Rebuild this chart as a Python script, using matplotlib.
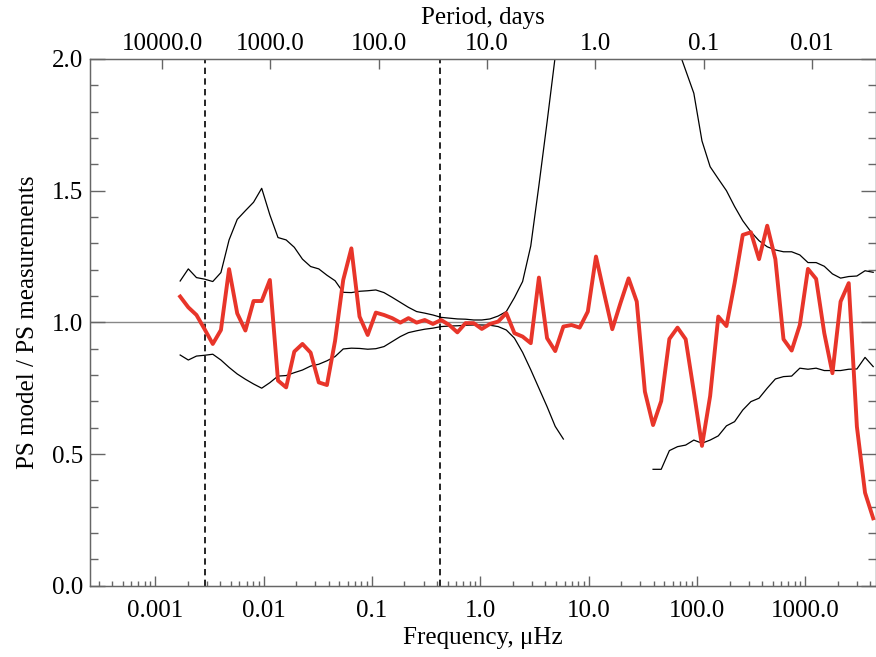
import numpy as np
import matplotlib
matplotlib.use("Agg")
import matplotlib.pyplot as plt
from matplotlib.ticker import FixedLocator, NullLocator, MultipleLocator, LogLocator

# Frequency bins, microHz (quarter-octave spacing)
freq = [0.0017, 0.002022, 0.002404, 0.002859, 0.0034, 0.004043, 0.004808, 0.005718,
        0.0068, 0.008087, 0.009617, 0.01144, 0.0136, 0.01617, 0.01923, 0.02287,
        0.0272, 0.03235, 0.03847, 0.04575, 0.0544, 0.06469, 0.07693, 0.09149,
        0.1088, 0.1294, 0.1539, 0.183, 0.2176, 0.2588, 0.3077, 0.366,
        0.4352, 0.5176, 0.6155, 0.7319, 0.8704, 1.035, 1.231, 1.464,
        1.741, 2.07, 2.462, 2.928, 3.482, 4.14, 4.924, 5.855,
        6.963, 8.281, 9.848, 11.71, 13.93, 16.56, 19.7, 23.42,
        27.85, 33.12, 39.39, 46.84, 55.71, 66.25, 78.78, 93.69,
        111.4, 132.5, 157.6, 187.4, 222.8, 265.0, 315.1, 374.7,
        445.7, 530.0, 630.2, 749.5, 891.3, 1060.0, 1260.5, 1499.0,
        1782.6, 2119.9, 2521.0, 2998.0, 3565.2, 4239.9]

ratio = [1.098, 1.057, 1.028, 0.974, 0.918, 0.971, 1.202, 1.034, 0.969, 1.081,
         1.081, 1.161, 0.779, 0.753, 0.889, 0.918, 0.885, 0.772, 0.762, 0.93,
         1.161, 1.281, 1.022, 0.952, 1.037, 1.028, 1.016, 0.999, 1.016, 0.999,
         1.009, 0.994, 1.009, 0.990, 0.962, 0.997, 0.997, 0.975, 0.994, 1.003,
         1.035, 0.959, 0.946, 0.921, 1.170, 0.940, 0.891, 0.984, 0.990, 0.980,
         1.041, 1.250, 1.110, 0.974, 1.073, 1.167, 1.079, 0.737, 0.610, 0.701,
         0.937, 0.980, 0.936, 0.737, 0.531, 0.72, 1.022, 0.986, 1.149, 1.332,
         1.342, 1.240, 1.367, 1.240, 0.936, 0.893, 0.990, 1.203, 1.165, 0.959,
         0.807, 1.079, 1.149, 0.604, 0.353, 0.256]

nan = np.nan
upper = [1.157, 1.203, 1.170, 1.164, 1.155, 1.189, 1.313, 1.391, 1.424, 1.456,
         1.509, 1.408, 1.322, 1.313, 1.285, 1.240, 1.212, 1.203, 1.179, 1.158,
         1.114, 1.113, 1.118, 1.120, 1.123, 1.113, 1.095, 1.076, 1.057, 1.041,
         1.035, 1.028, 1.019, 1.016, 1.013, 1.012, 1.009, 1.009, 1.013, 1.024,
         1.041, 1.094, 1.155, 1.29, 1.52, 1.76, 2.01, 2.4, nan, nan,
         nan, nan, nan, nan, nan, nan, nan, nan, nan, nan,
         2.4, 2.044, 1.957, 1.870, 1.689, 1.591, 1.545, 1.500, 1.440, 1.386,
         1.344, 1.310, 1.287, 1.275, 1.268, 1.268, 1.256, 1.227, 1.227, 1.213,
         1.184, 1.168, 1.174, 1.176, 1.196, 1.190]

lower = [0.876, 0.857, 0.872, 0.875, 0.879, 0.857, 0.829, 0.804, 0.784, 0.766,
         0.750, 0.771, 0.796, 0.798, 0.809, 0.819, 0.834, 0.841, 0.854, 0.870,
         0.899, 0.902, 0.901, 0.898, 0.900, 0.908, 0.927, 0.946, 0.961, 0.968,
         0.974, 0.978, 0.984, 0.986, 0.987, 0.989, 0.990, 0.990, 0.989, 0.984,
         0.971, 0.940, 0.886, 0.82, 0.75, 0.68, 0.605, 0.557, nan, nan,
         nan, nan, nan, nan, nan, nan, nan, nan, 0.442, 0.442,
         0.513, 0.528, 0.534, 0.553, 0.541, 0.553, 0.569, 0.607, 0.623, 0.667,
         0.699, 0.712, 0.750, 0.785, 0.794, 0.796, 0.826, 0.822, 0.826, 0.817,
         0.817, 0.817, 0.822, 0.823, 0.867, 0.832]

# 11-year cycle and 27-day rotation, microHz
marker_freq = [0.00288, 0.4287]

freq_ticks = [0.001, 0.01, 0.1, 1.0, 10.0, 100.0, 1000.0]
freq_labels = ["0.001", "0.01", "0.1", "1.0", "10.0", "100.0", "1000.0"]
period_ticks = [10000.0, 1000.0, 100.0, 10.0, 1.0, 0.1, 0.01]
period_labels = ["10000.0", "1000.0", "100.0", "10.0", "1.0", "0.1", "0.01"]
y_ticks = [0.0, 0.5, 1.0, 1.5, 2.0]
y_labels = ["0.0", "0.5", "1.0", "1.5", "2.0"]

plt.rcParams['font.family'] = ['Liberation Serif', 'DejaVu Serif']
plt.rcParams['font.size'] = 18

fig = plt.figure(figsize=(8.76, 6.57), dpi=100)
ax = fig.add_axes([0.1027, 0.1085, 0.8973, 0.8017])

spine_col = "#666666"
ax.set_xscale("log")
ax.set_xlim(2.5e-4, 4.5e3)
ax.set_ylim(0, 2.0)

ax.axhline(1.0, color="#888888", lw=1.0, zorder=1)
for f in marker_freq:
    ax.axvline(f, color="black", lw=1.2, dashes=(3.8, 2.6), zorder=1)

ax.plot(freq, upper, color="black", lw=0.9, zorder=2)
ax.plot(freq, lower, color="black", lw=0.9, zorder=2)
ax.plot(freq, ratio, color="#e8352a", lw=2.8, zorder=3)

ax.xaxis.set_major_locator(FixedLocator(freq_ticks))
ax.set_xticklabels(freq_labels)
ax.xaxis.set_minor_locator(LogLocator(base=10, subs=np.arange(2, 10)))
ax.yaxis.set_major_locator(FixedLocator(y_ticks))
ax.set_yticklabels(y_labels)
ax.yaxis.set_minor_locator(MultipleLocator(0.1))

ax.tick_params(axis="x", which="major", direction="in", length=7, width=1,
               color=spine_col, pad=10, top=False)
ax.tick_params(axis="x", which="minor", direction="in", length=3.5, width=1,
               color=spine_col, top=False)
ax.tick_params(axis="y", which="major", direction="in", length=11, width=1,
               color=spine_col, right=True, pad=5)
ax.tick_params(axis="y", which="minor", direction="in", length=5.5, width=1,
               color=spine_col, right=True)
for s in ax.spines.values():
    s.set_color(spine_col)
    s.set_linewidth(1.0)

ax.set_xlabel("Frequency, μHz", labelpad=4)
ax.set_ylabel("PS model / PS measurements", labelpad=9)

top = ax.twiny()
top.set_xscale("log")
top.set_xlim(ax.get_xlim())
top.xaxis.set_major_locator(FixedLocator([11.574 / p for p in period_ticks]))
top.set_xticklabels(period_labels)
top.xaxis.set_minor_locator(NullLocator())
top.tick_params(axis="x", which="major", direction="in", length=7, width=1,
                color=spine_col, pad=3)
top.set_xlabel("Period, days", labelpad=6)
for s in top.spines.values():
    s.set_color(spine_col)

fig.savefig("out.png", dpi=100)
